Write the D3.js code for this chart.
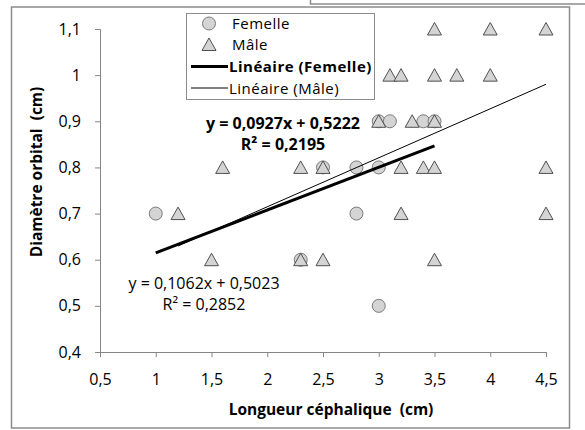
<!DOCTYPE html>
<html>
<head>
<meta charset="utf-8">
<script src="https://cdn.jsdelivr.net/npm/d3@7"></script>
<style>
  body { margin: 0; background: #fff; }
  svg { display: block; font-family: "Open Sans", Lato, sans-serif; }
  text { white-space: pre; }
</style>
</head>
<body>
<div id="chart"></div>
<script>
// data
const femelleLongueur = [1, 2.3, 2.5, 2.8, 2.8, 3, 3.1, 3, 3, 3.4, 3.5];
const femelleDiametre = [0.7, 0.6, 0.8, 0.8, 0.7, 0.9, 0.9, 0.8, 0.5, 0.9, 0.9];

const maleLongueur = [1.2, 1.5, 1.6, 2.3, 2.3, 2.5, 2.5, 3, 3.1, 3.2, 3.5, 4, 4.5, 3.5, 3.7, 4,
                      3.3, 3.5, 3.2, 3.4, 3.5, 4.5, 3.2, 4.5, 3.5];
const maleDiametre = [0.7, 0.6, 0.8, 0.8, 0.6, 0.8, 0.6, 0.9, 1, 1, 1.1, 1.1, 1.1, 1, 1, 1,
                      0.9, 0.9, 0.8, 0.8, 0.8, 0.8, 0.7, 0.7, 0.6];

// slope, intercept
const trendFemelle = [0.0927, 0.5222];
const trendMale = [0.1062, 0.5023];

const xTicks = [0.5, 1, 1.5, 2, 2.5, 3, 3.5, 4, 4.5];
const yTicks = [0.4, 0.5, 0.6, 0.7, 0.8, 0.9, 1, 1.1];

const legendLabels = ["Femelle", "Mâle", "Linéaire (Femelle)", "Linéaire (Mâle)"];
const eqFemelle = ["y = 0,0927x + 0,5222", "R² = 0,2195"];
const eqMale = ["y = 0,1062x + 0,5023", "R² = 0,2852"];

const width = 585, height = 430;
const fmt = d => String(d).replace(".", ",");

const svg = d3.select("#chart").append("svg")
    .attr("width", width).attr("height", height);

// frames
svg.append("rect")
    .attr("x", 310.5).attr("y", -10).attr("width", 300).attr("height", 14)
    .attr("fill", "none").attr("stroke", "#8c8c8c").attr("stroke-width", 1.5);
svg.append("rect")
    .attr("x", 11.5).attr("y", 7).attr("width", 558).attr("height", 421)
    .attr("fill", "#fff").attr("stroke", "#8c8c8c").attr("stroke-width", 1.5);

const x = d3.scaleLinear().domain([0.5, 4.5]).range([100, 546]);
const y = d3.scaleLinear().domain([0.4, 1.1]).range([352, 29]);

// axes
const gx = svg.append("g")
    .attr("transform", `translate(0,${y(0.4)})`)
    .call(d3.axisBottom(x).tickValues(xTicks).tickFormat(fmt).tickSize(5).tickPadding(17));
const gy = svg.append("g")
    .attr("transform", `translate(${x(0.5)},0)`)
    .call(d3.axisLeft(y).tickValues(yTicks).tickFormat(fmt).tickSize(5).tickPadding(14));

[gx, gy].forEach(g => {
    g.select(".domain").attr("stroke", "#868686");
    g.selectAll(".tick line").attr("stroke", "#868686");
    g.selectAll(".tick text").attr("fill", "#000")
        .style("font-family", "'Open Sans', sans-serif").style("font-size", "16px");
});

// axis titles
svg.append("text")
    .attr("x", 331).attr("y", 415)
    .attr("text-anchor", "middle")
    .attr("font-weight", "bold").attr("font-size", "15.5px")
    .text("Longueur céphalique  (cm)");
svg.append("text")
    .attr("transform", "translate(42,172) rotate(-90)")
    .attr("text-anchor", "middle")
    .attr("font-weight", "bold").attr("font-size", "15.5px")
    .text("Diamètre orbital  (cm)");

const triangle = "M0,-6.5L7,6L-7,6Z";

// Femelle circles
svg.append("g").selectAll("circle")
    .data(femelleLongueur.map((d, i) => [d, femelleDiametre[i]]))
    .join("circle")
    .attr("cx", d => x(d[0])).attr("cy", d => y(d[1]))
    .attr("r", 6.5)
    .attr("fill", "#d4d4d4").attr("stroke", "#7a7a7a").attr("stroke-width", 1);

// Mâle triangles
svg.append("g").selectAll("path")
    .data(maleLongueur.map((d, i) => [d, maleDiametre[i]]))
    .join("path")
    .attr("d", triangle)
    .attr("transform", d => `translate(${x(d[0])},${y(d[1])})`)
    .attr("fill", "#d4d4d4").attr("stroke", "#505050").attr("stroke-width", 1);

// trend lines
function trendLine(xs, coef, w) {
    const ext = d3.extent(xs);
    svg.append("line")
        .attr("x1", x(ext[0])).attr("y1", y(coef[0] * ext[0] + coef[1]))
        .attr("x2", x(ext[1])).attr("y2", y(coef[0] * ext[1] + coef[1]))
        .attr("stroke", "#000").attr("stroke-width", w);
}
trendLine(maleLongueur, trendMale, 1);
trendLine(femelleLongueur, trendFemelle, 3);

// equations
const eqF = svg.append("text").attr("text-anchor", "middle")
    .attr("font-weight", "bold").attr("font-size", "16px");
eqF.append("tspan").attr("x", 283).attr("y", 129).text(eqFemelle[0]);
eqF.append("tspan").attr("x", 283).attr("y", 150).text(eqFemelle[1]);

const eqM = svg.append("text").attr("text-anchor", "middle").attr("font-size", "16px");
eqM.append("tspan").attr("x", 204).attr("y", 289).text(eqMale[0]);
eqM.append("tspan").attr("x", 204).attr("y", 310).text(eqMale[1]);

// legend
const lg = svg.append("g");
lg.append("rect")
    .attr("x", 186.5).attr("y", 13.5).attr("width", 188).attr("height", 86)
    .attr("fill", "#fff").attr("stroke", "#8c8c8c").attr("stroke-width", 1);
const rowY = [23.5, 44.5, 66.5, 88];
lg.append("circle").attr("cx", 209).attr("cy", rowY[0]).attr("r", 6.5)
    .attr("fill", "#d4d4d4").attr("stroke", "#7a7a7a");
lg.append("path").attr("d", triangle).attr("transform", `translate(209,${rowY[1]})`)
    .attr("fill", "#d4d4d4").attr("stroke", "#505050");
lg.append("line").attr("x1", 191).attr("x2", 228).attr("y1", rowY[2]).attr("y2", rowY[2])
    .attr("stroke", "#000").attr("stroke-width", 3);
lg.append("line").attr("x1", 191).attr("x2", 228).attr("y1", rowY[3]).attr("y2", rowY[3])
    .attr("stroke", "#000").attr("stroke-width", 1);
lg.selectAll("text.lab")
    .data(legendLabels)
    .join("text")
    .attr("class", "lab")
    .attr("x", (d, i) => i < 2 ? 232 : 229)
    .attr("y", (d, i) => rowY[i] + 5.5)
    .attr("font-size", "15px")
    .attr("letter-spacing", "0.5px")
    .attr("font-weight", (d, i) => i === 2 ? "bold" : "normal")
    .text(d => d);
</script>
</body>
</html>
